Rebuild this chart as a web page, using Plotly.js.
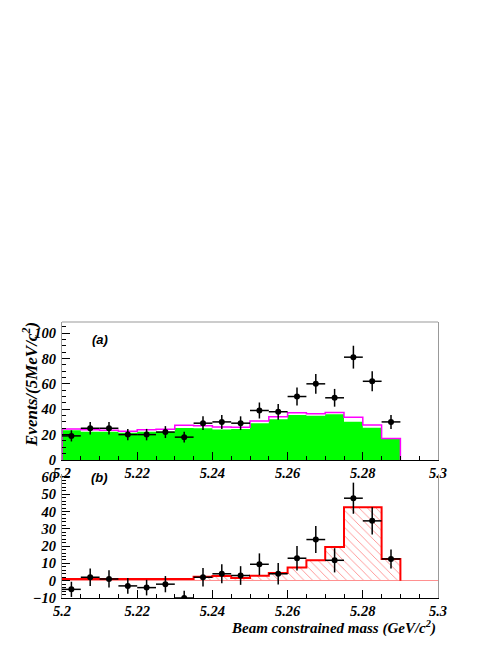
<!DOCTYPE html>
<html>
<head>
<meta charset="utf-8">
<script src="https://cdn.plot.ly/plotly-3.0.1.min.js"></script>
<style>html,body{margin:0;padding:0;background:#fff;}#chart{width:498px;height:645px;}</style>
</head>
<body>
<div id="chart"></div>
<script>
// Bin centres (GeV/c^2), 5 MeV bins from 5.20 to 5.29
const binCenters = [5.2025,5.2075,5.2125,5.2175,5.2225,5.2275,5.2325,5.2375,5.2425,5.2475,5.2525,5.2575,5.2625,5.2675,5.2725,5.2775,5.2825,5.2875];
const binHalfWidth = 0.0025;

// Panel (a): data points and errors
const dataA = [19,25,25,20,20,22,18,29,30,29,39,38,50,60,49,81,62,30];
const errA  = [4.4,5.0,5.0,4.5,4.5,4.7,4.2,5.4,5.5,5.4,6.3,6.2,7.1,7.8,7.0,9.0,7.9,5.5];
// Panel (a): background (green fill) and total (magenta line)
const bkgA   = [23.4,22.3,22.3,21.5,22.3,22.3,25.2,25.0,24.1,24.4,28.9,32.0,35.4,34.9,36.0,30.2,25.5,16.5];
const totalA = [24.4,23.9,23.4,22.6,23.9,24.2,27.4,27.0,26.0,25.7,30.7,34.1,37.3,36.5,37.5,33.6,27.6,17.0];

// Panel (b): subtracted data points and signal histogram
const dataB = [-5,2,1,-3,-4,-2,-10,2,4,3,9.5,4,13,23.8,11.8,47.7,34.6,12.6];
const errB  = errA;
const sigB  = [1,1,1,1,1,1,1,2.3,2.7,1.5,2.9,4.4,7.7,11.8,19.5,42.4,42.4,12.5];

// Axis tick settings
const xTickVals = [5.2,5.22,5.24,5.26,5.28,5.3];
const yTickValsA = [0,20,40,60,80,100];
const yTickValsB = [-10,0,10,20,30,40,50,60];

function steps(vals){
  const xs=[binCenters[0]-binHalfWidth], ys=[0];
  for(let i=0;i<vals.length;i++){ xs.push(binCenters[i]-binHalfWidth); ys.push(vals[i]); }
  const last=binCenters[binCenters.length-1]+binHalfWidth;
  xs.push(last); ys.push(vals[vals.length-1]);
  xs.push(last); ys.push(0);
  return {x:xs,y:ys};
}

const tickFont = {family:'Liberation Serif', size:14.5, weight:'bold', style:'italic', color:'#000'};
const sB = steps(bkgA), sT = steps(totalA), sS = steps(sigB);
const errX = binCenters.map(()=>binHalfWidth);

const traces = [
  {x:sB.x, y:sB.y, xaxis:'x', yaxis:'y', type:'scatter', mode:'lines', line:{shape:'hv', width:0, color:'#00ee00'}, fill:'tozeroy', fillcolor:'#00ff00', hoverinfo:'skip'},
  {x:sT.x, y:sT.y, xaxis:'x', yaxis:'y', type:'scatter', mode:'lines', line:{shape:'hv', width:1.5, color:'#ff00ff'}},
  {x:binCenters, y:dataA, xaxis:'x', yaxis:'y', type:'scatter', mode:'markers', marker:{size:6, color:'#000'},
   error_y:{type:'data', array:errA, visible:true, color:'#000', thickness:1.5, width:0},
   error_x:{type:'data', array:errX, visible:true, color:'#000', thickness:1.5, width:0}},
  {x:sS.x, y:sS.y, xaxis:'x2', yaxis:'y2', type:'scatter', mode:'lines', line:{shape:'hv', width:2, color:'#ff0000'}, fill:'tozeroy', fillcolor:'rgba(0,0,0,0)',
   fillpattern:{shape:'\\', fgcolor:'#ff9090', bgcolor:'rgba(0,0,0,0)', size:6, solidity:0.15}},
  {x:binCenters, y:dataB, xaxis:'x2', yaxis:'y2', type:'scatter', mode:'markers', marker:{size:6, color:'#000'},
   error_y:{type:'data', array:errB, visible:true, color:'#000', thickness:1.5, width:0},
   error_x:{type:'data', array:errX, visible:true, color:'#000', thickness:1.5, width:0}}
];

const xCommon = {range:[5.2,5.3], tickvals:xTickVals, ticktext:xTickVals.map(String), ticks:'inside', ticklen:8, tickcolor:'#000', tickwidth:1,
  minor:{dtick:0.005, tick0:5.2, ticks:'inside', ticklen:4, tickcolor:'#000'},
  showline:true, linecolor:'#000', linewidth:1, mirror:false, showgrid:false, zeroline:false, tickfont:tickFont, fixedrange:true};

const layout = {
  width:498, height:645, margin:{l:62, r:60, t:322, b:47},
  paper_bgcolor:'#fff', plot_bgcolor:'#fff', showlegend:false,
  xaxis: Object.assign({}, xCommon, {anchor:'y'}),
  xaxis2: Object.assign({}, xCommon, {anchor:'y2'}),
  yaxis: {domain:[0.5,1], range:[0,108.7], tickvals:yTickValsA, ticks:'inside', ticklen:8, tickcolor:'#000',
    minor:{dtick:5, ticks:'inside', ticklen:4, tickcolor:'#000'},
    showline:true, linecolor:'#999', mirror:true, showgrid:false, zeroline:false, tickfont:tickFont, ticklabelstandoff:2},
  yaxis2: {domain:[0,0.4493], range:[-10,61.7], tickvals:yTickValsB, ticks:'inside', ticklen:8, tickcolor:'#000',
    minor:{dtick:2, ticks:'inside', ticklen:4, tickcolor:'#000'},
    showline:true, linecolor:'#999', mirror:true, showgrid:false, zeroline:true, zerolinecolor:'#ff9090', zerolinewidth:1, tickfont:tickFont, ticklabelstandoff:2},
  shapes:[
    {type:'line', xref:'x domain', yref:'y domain', x0:0, x1:1, y0:1, y1:1, line:{color:'#999', width:1}}
  ],
  annotations:[
    {text:'(a)', xref:'paper', yref:'paper', x:0.101, y:0.935, showarrow:false, xanchor:'center', yanchor:'middle',
     font:{family:'Liberation Sans', size:13, weight:'bold', style:'italic', color:'#000'}},
    {text:'(b)', xref:'paper', yref:'paper', x:0.101, y:0.435, showarrow:false, xanchor:'center', yanchor:'middle',
     font:{family:'Liberation Sans', size:13, weight:'bold', style:'italic', color:'#000'}},
    {text:'Events/(5MeV/c<sup>2</sup>)', xref:'paper', yref:'paper', x:-0.085, y:0.772, textangle:-90, showarrow:false, xanchor:'center', yanchor:'middle',
     font:{family:'Liberation Serif', size:17, weight:'bold', style:'italic', color:'#000'}},
    {text:'Beam constrained mass (GeV/c<sup>2</sup>)', xref:'paper', yref:'paper', x:1, y:-0.108, showarrow:false, xanchor:'right', yanchor:'middle',
     font:{family:'Liberation Serif', size:15, weight:'bold', style:'italic', color:'#000'}}
  ]
};

Plotly.newPlot('chart', traces, layout, {staticPlot:true, displayModeBar:false});
</script>
</body>
</html>
